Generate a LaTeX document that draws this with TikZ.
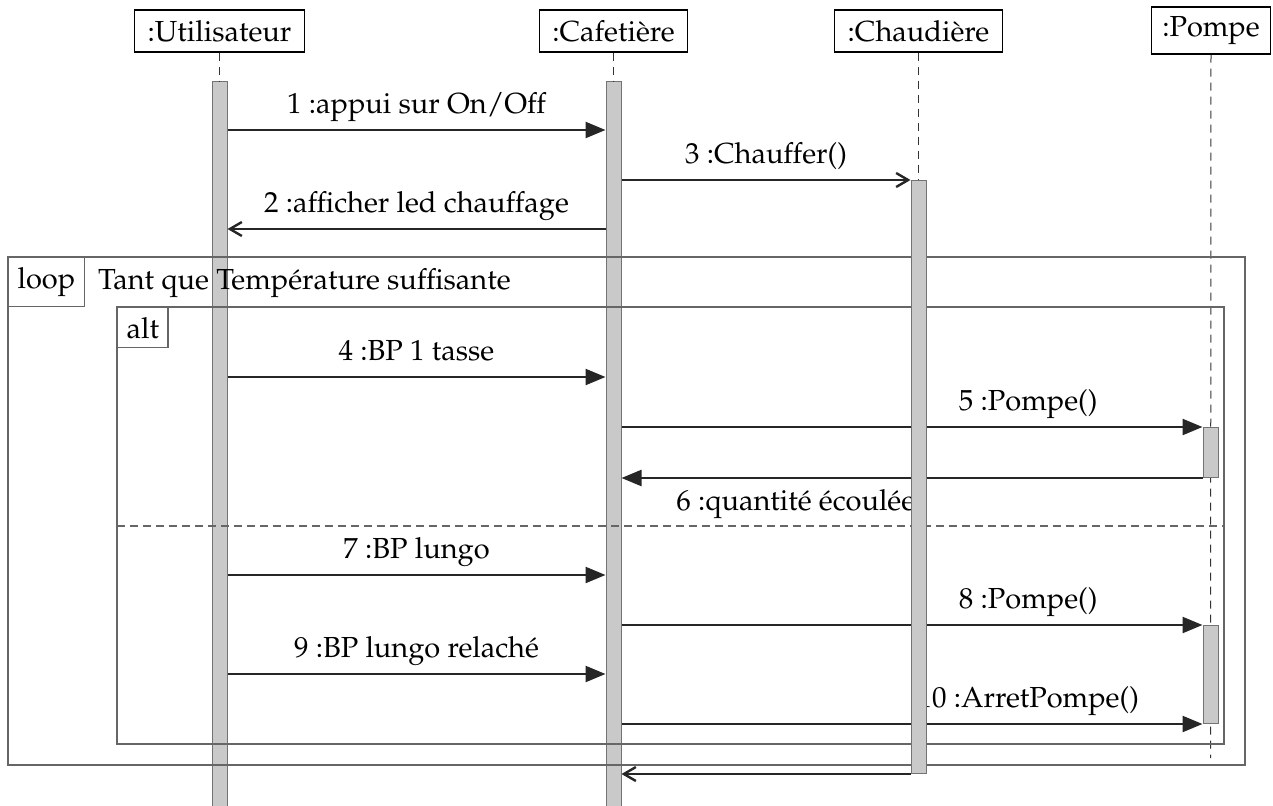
\documentclass[tikz,border=0pt]{standalone}
\usepackage[T1]{fontenc}
\usepackage{mathpazo}
\usetikzlibrary{arrows.meta}
\pgfdeclarelayer{low}
\pgfdeclarelayer{back}
\pgfsetlayers{low,back,main}

\begin{document}
\begin{tikzpicture}[x=1pt,y=-1pt,>={Triangle[length=20pt,width=16pt]},
    every node/.style={font=\fontsize{29}{35}\selectfont},
    obj/.style={draw,line width=1.4pt,inner xsep=13pt,inner ysep=0pt,minimum height=42pt},
    act/.style={draw=black!55,fill=black!21,line width=1pt,minimum width=15pt,inner sep=0pt,anchor=north},
    life/.style={line width=1pt,draw=black!80,dash pattern=on 8pt off 6pt},
    msg/.style={line width=2.4pt,draw=black!85},
    ret/.style={msg,-{Straight Barb[length=12pt,width=14pt]}},
    lbl/.style={above=4pt,inner sep=3pt,text height=20pt,text depth=8pt},
    frm/.style={draw=black!60,line width=1.4pt},
    tag/.style={frm,anchor=north west,inner xsep=9pt,inner ysep=0pt}]
    \useasboundingbox (0,0) rectangle (1273,805);
    \node[obj] (user) at (219.5,31) {:Utilisateur};
    \node[obj] (cafe) at (613.5,31) {:Cafetière};
    \node[obj] (boil) at (918.5,31) {:Chaudière};
    \node[obj,minimum height=47pt,inner xsep=11pt] (pump) at (1211,30.5) {:Pompe};
    \begin{pgfonlayer}{low}
        \node[act,minimum height=740pt] (userbar) at (219.5,81) {};
        \node[act,minimum height=740pt] (cafebar) at (613.5,81) {};
    \end{pgfonlayer}
    \node[act,minimum height=593pt] (boilbar) at (918.5,180) {};
    \node[act,minimum height=50pt] (pumpbar1) at (1210.5,427) {};
    \node[act,minimum height=98pt] (pumpbar2) at (1210.5,625) {};
    \coordinate (pumpend) at (1210.5,758);
    \begin{pgfonlayer}{back}
        \draw[life] (user) -- (userbar);
        \draw[life] (cafe) -- (cafebar);
        \draw[life] (boil) -- (boilbar);
        \draw[life] (pump) -- (pumpend);
        \draw[frm] (8,257) rectangle (1245,765);
        \node[tag,minimum height=49pt] (looptag) at (8,257) {loop};
        \node[anchor=base west,inner sep=0pt] (loopcond) at (98,289) {Tant que Température suffisante};
        \draw[frm] (117,307) rectangle (1224,744);
        \node[tag,minimum height=40pt] (alttag) at (117,307) {alt};
        \draw[frm,dash pattern=on 8pt off 5pt] (117,526) -- (1224,526);
        \draw[msg,->] (userbar.east |- 0,130) -- (cafebar.west |- 0,130)
            node[lbl,midway] {1 :appui sur On/Off};
        \draw[ret] (cafebar.east |- boilbar.north) -- (boilbar.north west)
            node[lbl,midway] {3 :Chauffer()};
        \draw[ret] (cafebar.west |- 0,229) -- (userbar.east |- 0,229)
            node[lbl,midway] {2 :afficher led chauffage};
        \draw[msg,->] (userbar.east |- 0,377) -- (cafebar.west |- 0,377)
            node[lbl,midway] {4 :BP 1 tasse};
        \draw[msg,->] (cafebar.east |- pumpbar1.north) -- (pumpbar1.north west)
            node[lbl,pos=0.7] {5 :Pompe()};
        \draw[msg,->] (pumpbar1.south west) -- (cafebar.east |- pumpbar1.south)
            node[lbl,below=12pt,pos=0.7] {6 :quantité écoulée};
        \draw[msg,->] (userbar.east |- 0,575) -- (cafebar.west |- 0,575)
            node[lbl,midway] {7 :BP lungo};
        \draw[msg,->] (cafebar.east |- pumpbar2.north) -- (pumpbar2.north west)
            node[lbl,pos=0.7] {8 :Pompe()};
        \draw[msg,->] (userbar.east |- 0,674) -- (cafebar.west |- 0,674)
            node[lbl,midway] {9 :BP lungo relaché};
        \draw[msg,->] (cafebar.east |- pumpbar2.south) -- (pumpbar2.south west)
            node[lbl,pos=0.7] {10 :ArretPompe()};
        \draw[ret] (boilbar.south west) -- (cafebar.east |- boilbar.south);
    \end{pgfonlayer}
\end{tikzpicture}
\end{document}
